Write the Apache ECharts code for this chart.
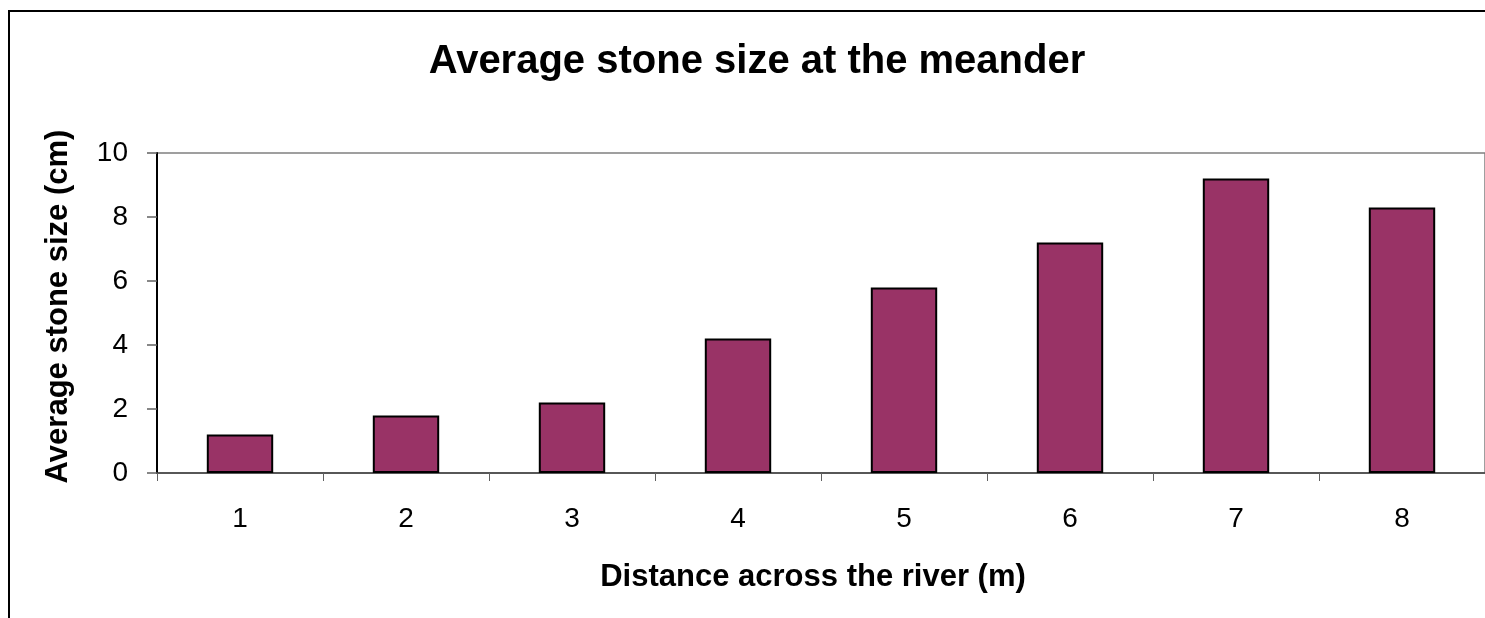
<!DOCTYPE html>
<html>
<head>
<meta charset="utf-8">
<script src="https://cdn.jsdelivr.net/npm/echarts@6/dist/echarts.min.js"></script>
<style>html,body{margin:0;padding:0;background:#fff}#c{width:1485px;height:618px}</style>
</head>
<body>
<div id="c"></div>
<script>
const categories = ['1','2','3','4','5','6','7','8'];
const stoneSize = [1.2, 1.8, 2.2, 4.2, 5.8, 7.2, 9.2, 8.3];
const yTicks = [0, 2, 4, 6, 8, 10];

const FONT = '"Liberation Sans", Arial, sans-serif';
const chart = echarts.init(document.getElementById('c'));
chart.setOption({
  animation: false,
  backgroundColor: '#ffffff',
  graphic: [{
    type: 'rect', silent: true, z: 100,
    shape: { x: 9, y: 11, width: 1600, height: 800 },
    style: { fill: 'none', stroke: '#000', lineWidth: 2 }
  }],
  title: {
    text: 'Average stone size at the meander',
    left: 752, top: 37, textAlign: 'center',
    textStyle: { fontFamily: FONT, fontWeight: 'bold', fontSize: 40, color: '#000' }
  },
  grid: {
    left: 157, top: 153, width: 1329, height: 320,
    show: true, borderColor: '#808080', borderWidth: 1.5, backgroundColor: 'transparent'
  },
  xAxis: {
    type: 'category', data: categories,
    name: 'Distance across the river (m)', nameLocation: 'middle', nameGap: 89,
    nameTextStyle: { fontFamily: FONT, fontWeight: 'bold', fontSize: 31, color: '#000', padding: [0, 16, 0, 0] },
    axisLine: { lineStyle: { color: '#404040', width: 1.5 } },
    axisTick: { show: true, alignWithLabel: false, length: 8, lineStyle: { color: '#606060', width: 1 } },
    axisLabel: { fontFamily: FONT, fontSize: 28, color: '#000', margin: 32 },
    splitLine: { show: false }
  },
  yAxis: {
    type: 'value', min: 0, max: 10, interval: 2,
    name: 'Average stone size (cm)', nameLocation: 'middle', nameGap: 83,
    nameTextStyle: { fontFamily: FONT, fontWeight: 'bold', fontSize: 31, color: '#000', padding: [0, 0, 0, 13] },
    axisLine: { show: true, lineStyle: { color: '#000', width: 2 } },
    axisTick: { show: true, length: 10, lineStyle: { color: '#606060', width: 1.5 } },
    axisLabel: {
      fontFamily: FONT, fontSize: 28, color: '#000', margin: 29,
      formatter: v => yTicks.includes(v) ? String(v) : ''
    },
    splitLine: { show: false }
  },
  series: [{
    type: 'bar', data: stoneSize, barCategoryGap: '60%',
    itemStyle: { color: '#993366', borderColor: '#000', borderWidth: 2 }
  }]
});
</script>
</body>
</html>
